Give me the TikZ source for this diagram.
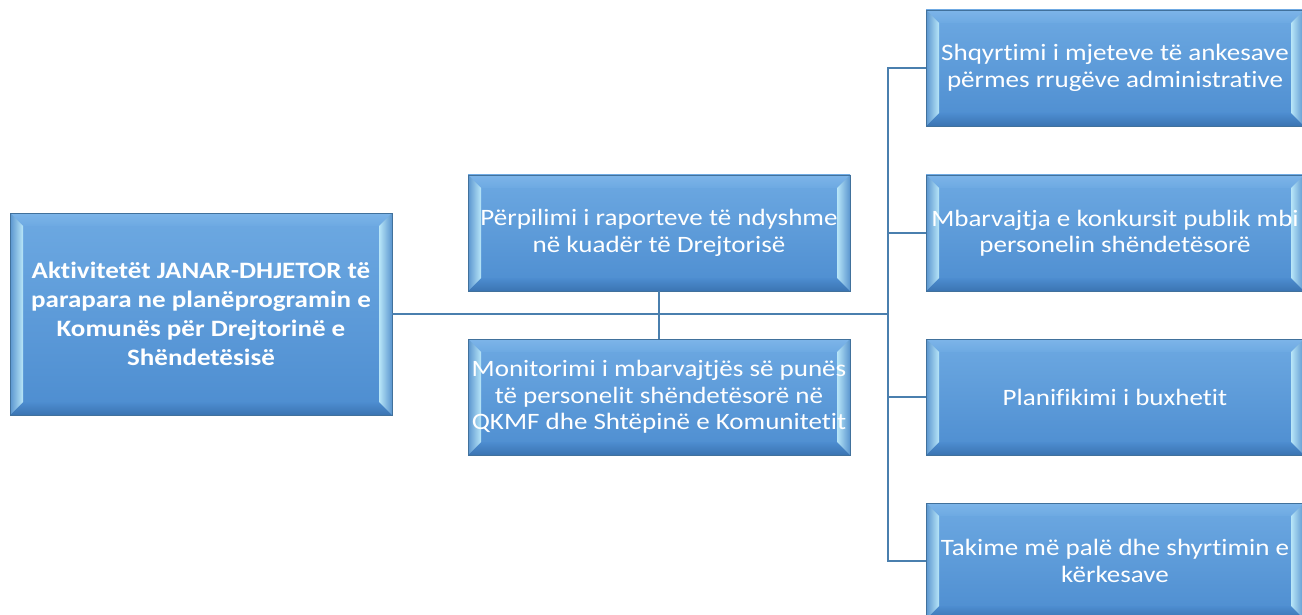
\documentclass[tikz,border=0pt]{standalone}
\usepackage{fontspec}
\setmainfont[FakeStretch=1.15, Ligatures=NoCommon]{Carlito}
\usetikzlibrary{calc}
\definecolor{facetop}{HTML}{6DA9E2}
\definecolor{facebot}{HTML}{4D8DD0}
\definecolor{bevtop}{HTML}{7DB5E9}
\definecolor{bevbot}{HTML}{3B74B2}
\definecolor{bevout}{HTML}{5A95CF}
\definecolor{bevin}{HTML}{B8E6F8}
\definecolor{boxborder}{HTML}{41719C}
\definecolor{lineblue}{HTML}{4A7FAE}
\newcommand{\bv}{13pt}
\tikzset{
  bx/.style={draw=boxborder, line width=0.9pt, top color=facetop, bottom color=facebot,
    text=white, align=center, inner sep=0pt, rectangle,
    path picture={
      \path (path picture bounding box.south west) coordinate (pSW)
            (path picture bounding box.north east) coordinate (pNE);
      \shade[top color=bevtop, bottom color=facetop]
        (pSW |- pNE) -- (pNE) -- ($(pNE)+(-\bv,-\bv)$) -- ($(pSW |- pNE)+(\bv,-\bv)$) -- cycle;
      \shade[top color=facebot, bottom color=bevbot]
        (pSW) -- (pNE |- pSW) -- ($(pNE |- pSW)+(-\bv,\bv)$) -- ($(pSW)+(\bv,\bv)$) -- cycle;
      \shade[left color=bevout, right color=bevin]
        (pSW) -- (pSW |- pNE) -- ($(pSW |- pNE)+(\bv,-\bv)$) -- ($(pSW)+(\bv,\bv)$) -- cycle;
      \shade[left color=bevin, right color=bevout]
        (pNE |- pSW) -- (pNE) -- ($(pNE)+(-\bv,-\bv)$) -- ($(pNE |- pSW)+(-\bv,\bv)$) -- cycle;
    }},
  conn/.style={draw=lineblue, line width=2.6pt},
  txt/.style={font=\fontsize{23.5}{26.5}\selectfont},
  roottxt/.style={font=\fontsize{23.5}{29}\selectfont\bfseries}
}
\begin{document}
\begin{tikzpicture}[x=1pt,y=-1pt]
\clip (0,0) rectangle (1302,615);
\fill[white] (0,0) rectangle (1302,615);
\coordinate (j) at (888,314);
\node[bx, minimum width=382pt, minimum height=202pt, roottxt] (root) at (201,314)
  {Aktivitetët JANAR-DHJETOR të\\parapara ne planëprogramin e\\Komunës për Drejtorinë e\\Shëndetësisë};
\node[bx, minimum width=382pt, minimum height=116pt, txt] (mt) at (659,233)
  {Përpilimi i raporteve të ndyshme\\në kuadër të Drejtorisë};
\node[bx, minimum width=382pt, minimum height=116pt, txt] (mb) at (659,397)
  {Monitorimi i mbarvajtjës së punës\\të personelit shëndetësorë në\\QKMF dhe Shtëpinë e Komunitetit};
\node[bx, minimum width=378pt, minimum height=116pt, txt] (r1) at (1115,68)
  {Shqyrtimi i mjeteve të ankesave\\përmes rrugëve administrative};
\node[bx, minimum width=378pt, minimum height=116pt, txt] (r2) at (1115,233)
  {Mbarvajtja e konkursit publik mbi\\personelin shëndetësorë};
\node[bx, minimum width=378pt, minimum height=116pt, txt] (r3) at (1115,397)
  {Planifikimi i buxhetit};
\node[bx, minimum width=378pt, minimum height=116pt, txt] (r4) at (1115,561)
  {Takime më palë dhe shyrtimin e\\kërkesave};
\draw[conn] (root.east) -- (j);
\draw[conn] (mt.south) -- (mb.north);
\draw[conn] (r1.west) -- (r1.west -| j) -- (r4.west -| j) -- (r4.west);
\draw[conn] (r2.west) -- (r2.west -| j);
\draw[conn] (r3.west) -- (r3.west -| j);
\end{tikzpicture}
\end{document}
